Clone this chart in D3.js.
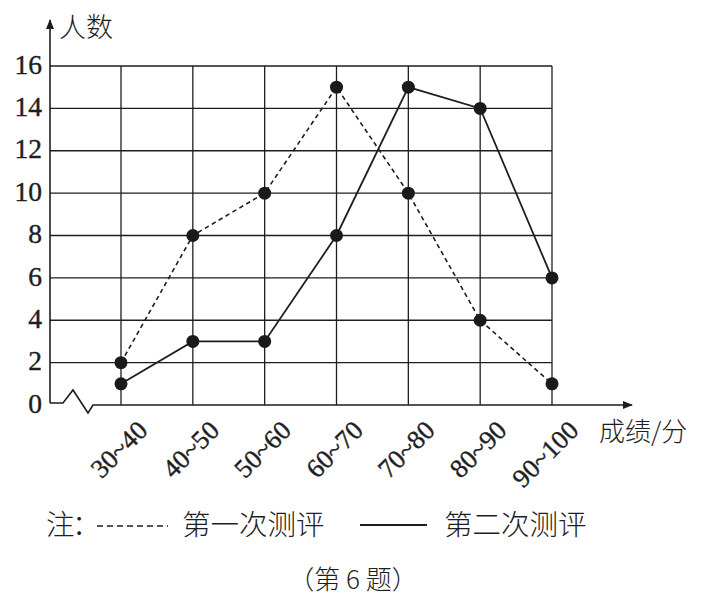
<!DOCTYPE html>
<html>
<head>
<meta charset="utf-8">
<script src="https://cdn.jsdelivr.net/npm/d3@7"></script>
<style>
  body { margin: 0; background: #fff; }
  svg { display: block; }
</style>
</head>
<body>
<div id="chart"></div>
<script>
// Data
const categories = ["30~40", "40~50", "50~60", "60~70", "70~80", "80~90", "90~100"];
const firstTest = [2, 8, 10, 15, 10, 4, 1];   // dashed
const secondTest = [1, 3, 3, 8, 15, 14, 6];   // solid
const yTicks = [0, 2, 4, 6, 8, 10, 12, 14, 16];

const W = 709, H = 604;
const ink = "#1e1e1e";
const serif = '"Liberation Serif", "Times New Roman", serif';
const cjk = '"Noto Sans CJK SC", sans-serif';

const svg = d3.select("#chart")
    .append("svg")
    .attr("width", W)
    .attr("height", H);

// Scales
const axisX = 50, axisY = 405;
const x = d3.scalePoint()
    .domain(categories)
    .range([121, 552]);

const y = d3.scaleLinear()
    .domain([0, 16])
    .range([axisY, 66]);

// Grid lines
const grid = svg.append("g").attr("stroke", ink).attr("stroke-width", 1.3);

grid.selectAll(".hgrid")
    .data(yTicks.filter(d => d > 0))
    .enter()
    .append("line")
    .attr("x1", axisX)
    .attr("x2", x(categories[categories.length - 1]))
    .attr("y1", d => y(d))
    .attr("y2", d => y(d));

grid.selectAll(".vgrid")
    .data(categories)
    .enter()
    .append("line")
    .attr("x1", d => x(d))
    .attr("x2", d => x(d))
    .attr("y1", axisY)
    .attr("y2", y(16));

// Arrow head for both axes
svg.append("defs").append("marker")
    .attr("id", "arrow")
    .attr("viewBox", "0 0 10 10")
    .attr("refX", 9)
    .attr("refY", 5)
    .attr("markerWidth", 10)
    .attr("markerHeight", 10)
    .attr("markerUnits", "userSpaceOnUse")
    .attr("orient", "auto")
    .append("path")
    .attr("d", "M0,1 L10,5 L0,9 Z")
    .attr("fill", ink);

// y axis line
svg.append("line")
    .attr("x1", axisX).attr("x2", axisX)
    .attr("y1", axisY - 2).attr("y2", 20)
    .attr("stroke", ink)
    .attr("stroke-width", 1.6)
    .attr("marker-end", "url(#arrow)");

// x axis with break symbol
svg.append("path")
    .attr("d", `M${axisX},${axisY - 2} L63,${axisY - 2} L73,390 L88,413 L93,${axisY} L632,${axisY}`)
    .attr("fill", "none")
    .attr("stroke", ink)
    .attr("stroke-width", 1.6)
    .attr("marker-end", "url(#arrow)");

// y tick labels
const yAxis = svg.append("g")
    .attr("transform", `translate(${axisX},0)`)
    .call(d3.axisLeft(y).tickValues(yTicks).tickSize(0).tickPadding(8));
yAxis.select(".domain").remove();
yAxis.selectAll("text")
    .attr("fill", ink)
    .attr("stroke", ink)
    .attr("stroke-width", 0.4)
    .attr("dy", "0.26em")
    .style("font-family", serif)
    .style("font-size", "27.5px");

// x tick labels, rotated, anchored at their upper end
svg.append("g")
    .selectAll("text")
    .data(categories)
    .enter()
    .append("text")
    .attr("transform", d => `translate(${x(d) + 28},432) rotate(-45)`)
    .attr("text-anchor", "end")
    .attr("fill", ink)
    .attr("stroke", ink)
    .attr("stroke-width", 0.4)
    .style("font-family", serif)
    .style("font-size", "26.5px")
    .text(d => d);

// Axis titles
svg.append("text")
    .attr("x", 59)
    .attr("y", 37)
    .attr("fill", ink)
    .style("font-family", cjk)
    .style("font-weight", 300)
    .style("font-size", "27px")
    .text("人数");

svg.append("text")
    .attr("x", 599)
    .attr("y", 441)
    .attr("fill", ink)
    .style("font-family", cjk)
    .style("font-weight", 300)
    .style("font-size", "26px")
    .text("成绩/分");

// Lines
const line = d3.line()
    .x((d, i) => x(categories[i]))
    .y(d => y(d));

svg.append("path")
    .datum(firstTest)
    .attr("d", line)
    .attr("fill", "none")
    .attr("stroke", ink)
    .attr("stroke-width", 1.6)
    .attr("stroke-dasharray", "4.5,3.5");

svg.append("path")
    .datum(secondTest)
    .attr("d", line)
    .attr("fill", "none")
    .attr("stroke", ink)
    .attr("stroke-width", 1.8);

// Dots
[firstTest, secondTest].forEach(series => {
    svg.append("g")
        .selectAll("circle")
        .data(series)
        .enter()
        .append("circle")
        .attr("cx", (d, i) => x(categories[i]))
        .attr("cy", d => y(d))
        .attr("r", 6.5)
        .attr("fill", "#1a1a1a");
});

// Legend
const legend = svg.append("g")
    .style("font-family", cjk)
    .style("font-weight", 300)
    .style("font-size", "28.5px")
    .attr("fill", ink);

legend.append("text").attr("x", 46).attr("y", 535).text("注");
legend.append("text").attr("x", 72).attr("y", 535).text("：");
legend.append("line")
    .attr("x1", 97).attr("x2", 168)
    .attr("y1", 526).attr("y2", 526)
    .attr("stroke", ink)
    .attr("stroke-width", 1.5)
    .attr("stroke-dasharray", "6,4");
legend.append("text").attr("x", 182).attr("y", 535).text("第一次测评");
legend.append("line")
    .attr("x1", 360).attr("x2", 427)
    .attr("y1", 525).attr("y2", 525)
    .attr("stroke", ink)
    .attr("stroke-width", 1.8);
legend.append("text").attr("x", 444).attr("y", 535).text("第二次测评");

// Caption
svg.append("text")
    .attr("x", 353)
    .attr("y", 589)
    .attr("text-anchor", "middle")
    .attr("fill", ink)
    .style("font-family", cjk)
    .style("font-weight", 300)
    .style("font-size", "26px")
    .text("（第 6 题）");
</script>
</body>
</html>
